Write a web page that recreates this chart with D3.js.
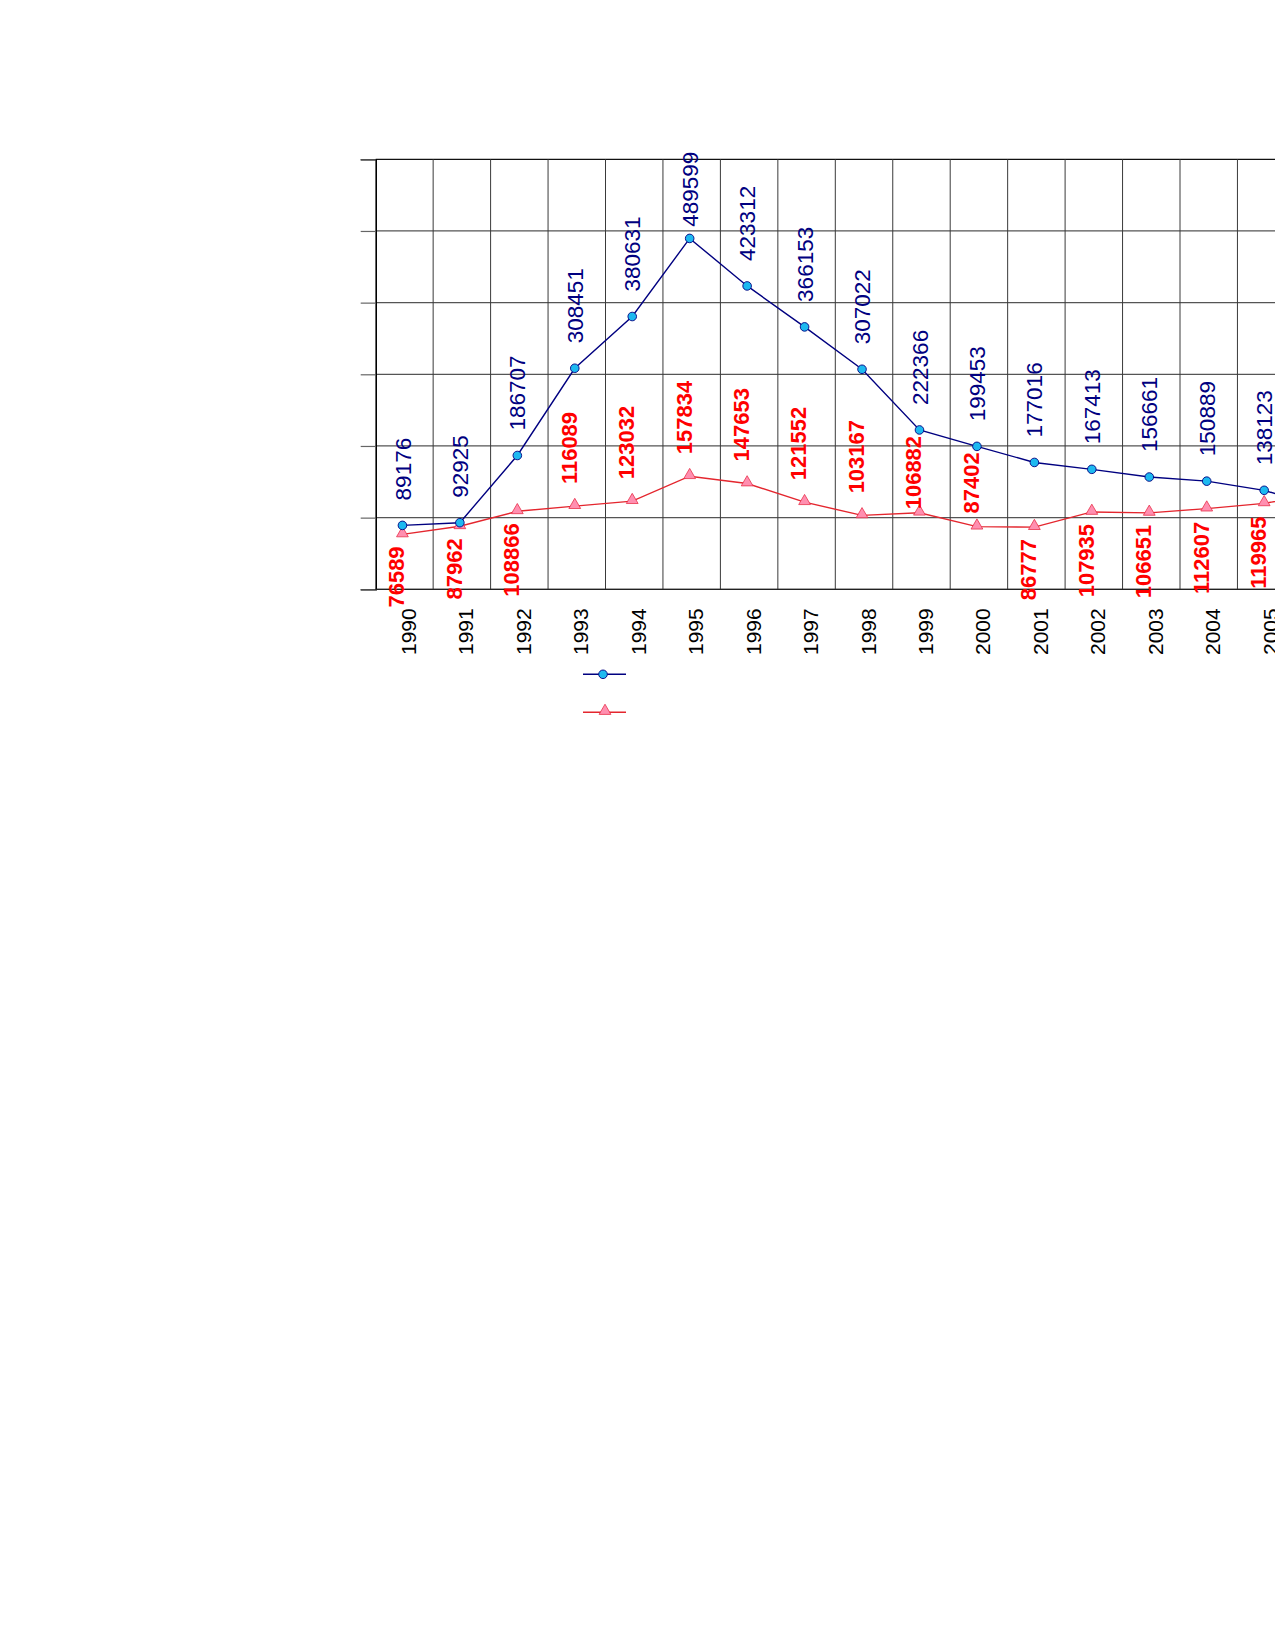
<!DOCTYPE html>
<html>
<head>
<meta charset="utf-8">
<script src="https://cdn.jsdelivr.net/npm/d3@7"></script>
<style>
  html, body { margin: 0; padding: 0; background: #fff; overflow: hidden; }
  svg { display: block; }
  text { font-family: "Liberation Sans", Arial, sans-serif; }
</style>
</head>
<body>
<svg id="chart" width="1275" height="1650"></svg>
<script>
// ---- data ----
const years = ["1990","1991","1992","1993","1994","1995","1996","1997","1998","1999","2000","2001","2002","2003","2004","2005","2006"];
const seriesA = [89176, 92925, 186707, 308451, 380631, 489599, 423312, 366153, 307022, 222366, 199453, 177016, 167413, 156661, 150889, 138123, 114000];
const seriesB = [76589, 87962, 108866, 116089, 123032, 157834, 147653, 121552, 103167, 106882, 87402, 86777, 107935, 106651, 112607, 119965, 133000];
const yTicks = [0, 100000, 200000, 300000, 400000, 500000, 600000];

// ---- layout ----
const svg = d3.select("#chart");
const plotLeft = 375.7, plotTop = 159.3, plotBottom = 589.3, step = 57.45;
const x = d3.scaleBand().domain(years).range([plotLeft, plotLeft + step * years.length]).padding(0);
const y = d3.scaleLinear().domain([0, 600000]).range([plotBottom, plotTop]);
const px = d => x(d) + x.bandwidth() / 2 - 2;

const g = svg.append("g");

// horizontal gridlines
g.append("g").selectAll("line").data(yTicks).join("line")
  .attr("x1", plotLeft).attr("x2", 1275)
  .attr("y1", d => y(d)).attr("y2", d => y(d))
  .attr("stroke", d => d === 600000 ? "#111" : "#555").attr("stroke-width", 1.2);

// vertical gridlines (band boundaries)
g.append("g").selectAll("line").data(years.slice(1)).join("line")
  .attr("x1", d => x(d)).attr("x2", d => x(d))
  .attr("y1", plotTop).attr("y2", plotBottom)
  .attr("stroke", "#3a3a3a").attr("stroke-width", 1);

// left axis with outward ticks, no labels
const yAxis = d3.axisLeft(y).tickValues(yTicks).tickSize(15).tickFormat("");
const ya = g.append("g").attr("transform", `translate(${plotLeft},0)`).call(yAxis);
ya.select(".domain").attr("stroke", "#000").attr("stroke-width", 1.6);
ya.selectAll(".tick line").attr("stroke", "#666").attr("stroke-width", 1.2);

// bottom axis line
g.append("line").attr("x1", plotLeft).attr("x2", 1275).attr("y1", plotBottom).attr("y2", plotBottom)
  .attr("stroke", "#222").attr("stroke-width", 1.3);

// year labels
g.append("g").selectAll("text").data(years).join("text")
  .attr("transform", d => `translate(${x(d) + x.bandwidth() / 2 + 4},${plotBottom + 19}) rotate(-90)`)
  .attr("dy", "0.36em")
  .attr("text-anchor", "end")
  .attr("font-size", 21)
  .attr("fill", "#000")
  .text(d => d);

// lines
const lineA = d3.line().x((d, i) => px(years[i])).y(d => y(d));
g.append("path").datum(seriesA).attr("d", lineA)
  .attr("fill", "none").attr("stroke", "#000080").attr("stroke-width", 1.4);
g.append("path").datum(seriesB).attr("d", lineA)
  .attr("fill", "none").attr("stroke", "#E4262E").attr("stroke-width", 1.4);

// markers
const tri = d3.symbol().type(d3.symbolTriangle).size(60);
g.append("g").selectAll("path").data(seriesB).join("path")
  .attr("d", tri)
  .attr("transform", (d, i) => `translate(${px(years[i])},${y(d) - 1})`)
  .attr("fill", "#FF8FB0").attr("stroke", "#E8304A").attr("stroke-width", 0.8);
g.append("g").selectAll("circle").data(seriesA).join("circle")
  .attr("cx", (d, i) => px(years[i])).attr("cy", d => y(d)).attr("r", 4.3)
  .attr("fill", "#1DB9F0").attr("stroke", "#000080").attr("stroke-width", 0.9);

// labels
const fsA = 22.5, fsB = 22;
const len = (s, f) => String(s).length * 0.556 * f;

// series A labels above points
g.append("g").selectAll("text").data(seriesA).join("text")
  .attr("transform", (d, i) => {
    let b = y(d) - 25;
    const topEdge = 151.7;
    if (b - len(d, fsA) < topEdge) b = topEdge + len(d, fsA);
    return `translate(${px(years[i])},${b}) rotate(-90)`;
  })
  .attr("dy", "0.36em")
  .attr("text-anchor", "start")
  .attr("font-size", fsA)
  .attr("fill", "#000080")
  .text(d => d);

// series B labels: above when there is room under series A, else below
g.append("g").selectAll("text").data(seriesB).join("text")
  .attr("transform", (d, i) => {
    const above = seriesA[i] - d > 100000;
    const cx = px(years[i]) - 6;
    if (above) {
      let b = y(d) - 22;
      const minTop = y(seriesA[i]) + 6;
      if (b - len(d, fsB) < minTop) b = minTop + len(d, fsB);
      return `translate(${cx},${b}) rotate(-90)`;
    }
    const t = y(d) + 12;
    return `translate(${cx},${t + len(d, fsB)}) rotate(-90)`;
  })
  .attr("dy", "0.36em")
  .attr("text-anchor", "start")
  .attr("font-size", fsB)
  .attr("font-weight", "bold")
  .attr("fill", "#FF0000")
  .text(d => d);

// legend (symbols only)
const lg = svg.append("g");
lg.append("line").attr("x1", 583).attr("x2", 626).attr("y1", 674.3).attr("y2", 674.3)
  .attr("stroke", "#000080").attr("stroke-width", 1.4);
lg.append("circle").attr("cx", 603).attr("cy", 674.3).attr("r", 4.3)
  .attr("fill", "#1DB9F0").attr("stroke", "#000080").attr("stroke-width", 0.9);
lg.append("line").attr("x1", 583).attr("x2", 626).attr("y1", 712.3).attr("y2", 712.3)
  .attr("stroke", "#E4262E").attr("stroke-width", 1.4);
lg.append("path").attr("d", tri).attr("transform", "translate(605,711)")
  .attr("fill", "#FF8FB0").attr("stroke", "#E8304A").attr("stroke-width", 0.8);
</script>
</body>
</html>
